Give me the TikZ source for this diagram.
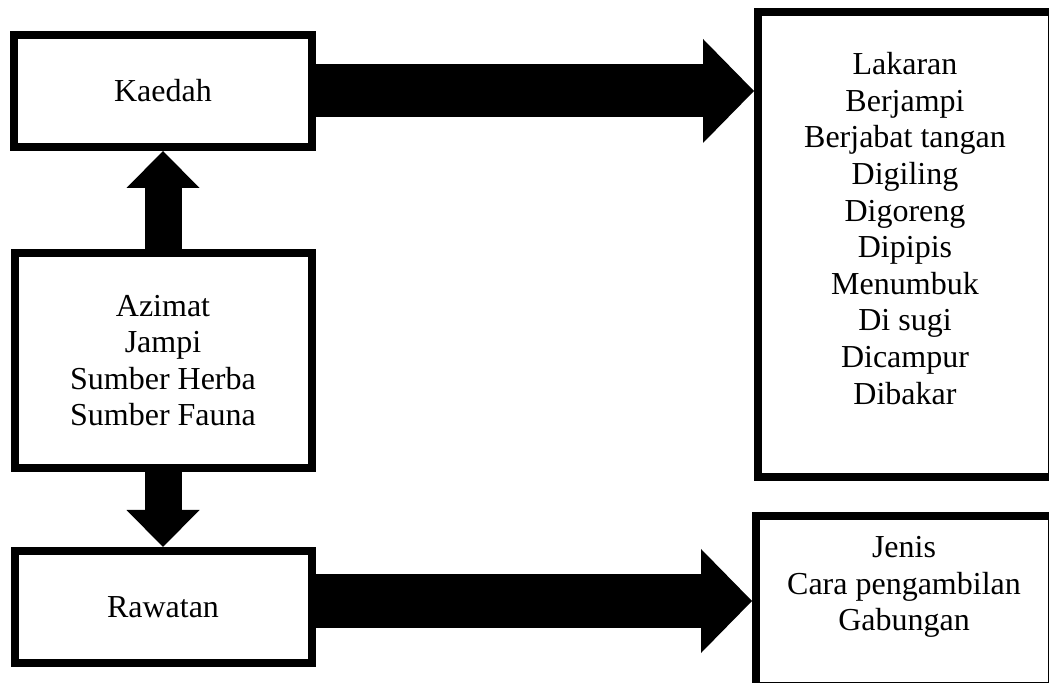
\documentclass[tikz,border=0pt]{standalone}
\usepackage{fontspec}
\setmainfont{Liberation Serif}
\usetikzlibrary{arrows.meta,positioning}

\begin{document}
\begin{tikzpicture}[x=0.5pt,y=-0.5pt,node distance=49pt,
                    font=\fontsize{16}{18.3}\selectfont]
  \tikzstyle{box}=[rectangle,draw=black,line width=4pt,fill=white,align=center,inner sep=0pt]
  \tikzstyle{txt}=[align=center,inner sep=0pt]
  \tikzstyle{hfat}=[line width=26.5pt,-{Triangle[width=52pt,length=25.5pt,line width=0pt]}]
  \tikzstyle{vfat}=[line width=18.5pt,-{Triangle[width=36.5pt,length=18.5pt,line width=0pt]}]

  \clip (0,0) rectangle (1049,683);

  \node[box,minimum width=149pt,minimum height=56pt] (K) at (163,91) {Kaedah};
  \node[box,minimum width=148.5pt,minimum height=107.5pt] (Z) [below=of K]
        {Azimat\\Jampi\\Sumber Herba\\Sumber Fauna};
  \node[box,minimum width=148.5pt,minimum height=56pt] (R) [below=37.5pt of Z] {Rawatan};
  \node[box,minimum width=147pt,minimum height=232.5pt] (L) at (905,244.5) {};
  \node[box,minimum width=148pt,minimum height=85pt] (J) at (904,601) {};

  \node[txt,anchor=north] (Lt) at (905,52)
        {Lakaran\\Berjampi\\Berjabat tangan\\Digiling\\Digoreng\\Dipipis\\Menumbuk\\Di sugi\\Dicampur\\Dibakar};
  \node[txt,anchor=north] (Jt) at (904,536) {Jenis\\Cara pengambilan\\Gabungan};

  \draw[hfat] (K.east) -- (K.east -| L.west);
  \draw[hfat] (R.east |- J.west) -- (J.west);
  \draw[vfat] (Z.north) -- (K.south);
  \draw[vfat] (Z.south) -- (R.north);
\end{tikzpicture}
\end{document}
